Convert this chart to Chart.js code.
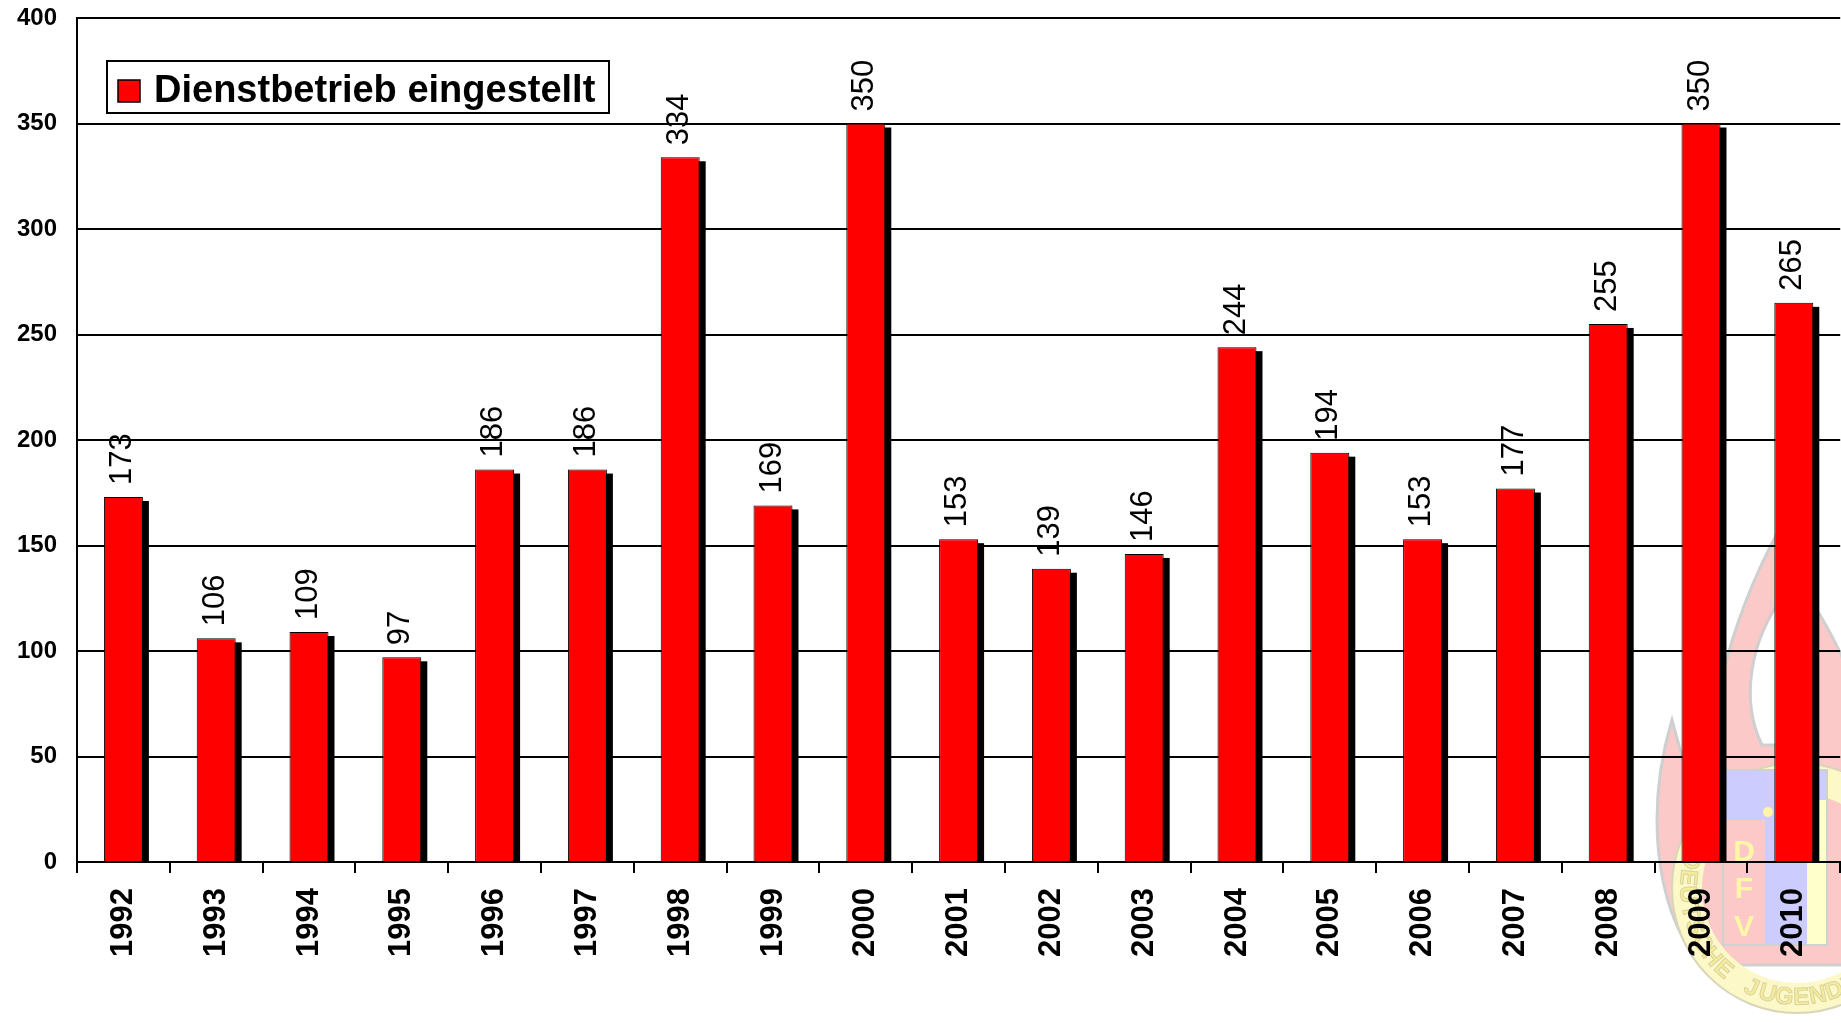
<!DOCTYPE html>
<html>
<head>
<meta charset="utf-8">
<script src="https://cdn.jsdelivr.net/npm/chart.js@4.4.1/dist/chart.umd.min.js"></script>
<style>
  html, body { margin: 0; padding: 0; background: #fff; overflow: hidden; }
  #wrap { position: relative; width: 1846px; height: 1023px; }
</style>
</head>
<body>
<div id="wrap"><canvas id="chart"></canvas></div>
<script>
const years = ['1992', '1993', '1994', '1995', '1996', '1997', '1998', '1999', '2000', '2001',
  '2002', '2003', '2004', '2005', '2006', '2007', '2008', '2009', '2010'];
const counts = [173, 106, 109, 97, 186, 186, 334, 169, 350, 153, 139, 146, 244, 194, 153, 177, 255, 350, 265];
const yTicks = [0, 50, 100, 150, 200, 250, 300, 350, 400];
const seriesName = 'Dienstbetrieb eingestellt';

const FONT = '"Liberation Sans", Arial, sans-serif';

// faint DJF logo behind the chart (bottom right)
const watermark = {
  id: 'watermark',
  beforeDraw(chart) {
    const ctx = chart.ctx;
    ctx.save();
    // flame
    ctx.beginPath();
    ctx.moveTo(1700, 965);
    ctx.bezierCurveTo(1650, 900, 1648, 800, 1672, 720);
    ctx.bezierCurveTo(1688, 780, 1698, 810, 1710, 830);
    ctx.bezierCurveTo(1700, 730, 1730, 620, 1779, 530);
    ctx.bezierCurveTo(1800, 600, 1850, 640, 1860, 720);
    ctx.lineTo(1860, 965);
    ctx.closePath();
    ctx.fillStyle = '#fcc9c9';
    ctx.fill();
    ctx.strokeStyle = '#cfcfcf';
    ctx.lineWidth = 3;
    ctx.stroke();
    // inner tongue of the flame
    ctx.beginPath();
    ctx.moveTo(1762, 745);
    ctx.bezierCurveTo(1740, 700, 1750, 640, 1784, 595);
    ctx.bezierCurveTo(1775, 650, 1792, 700, 1782, 745);
    ctx.closePath();
    ctx.fillStyle = '#ffffff';
    ctx.fill();
    ctx.stroke();
    // ring
    const cx = 1797, cy = 888;
    ctx.beginPath();
    ctx.arc(cx, cy, 125, 0, Math.PI * 2);
    ctx.arc(cx, cy, 95, 0, Math.PI * 2, true);
    ctx.fillStyle = '#fdf8c8';
    ctx.fill('evenodd');
    ctx.strokeStyle = '#d8d6b8';
    ctx.lineWidth = 2;
    ctx.beginPath(); ctx.arc(cx, cy, 125, 0, Math.PI * 2); ctx.stroke();
    // ring text
    const txt = 'DEUTSCHE JUGENDFEUERWEHR';
    ctx.font = 'bold 24px ' + FONT;
    ctx.fillStyle = '#f6ec9a';
    ctx.strokeStyle = '#d9d3a0';
    ctx.lineWidth = 1;
    ctx.textAlign = 'center';
    ctx.textBaseline = 'middle';
    for (let i = 0; i < txt.length; i++) {
      const a = Math.PI * 1.08 - i * 0.155;
      const x = cx + 110 * Math.cos(a), y = cy + 110 * Math.sin(a);
      ctx.save();
      ctx.translate(x, y);
      ctx.rotate(a - Math.PI / 2);
      ctx.fillText(txt[i], 0, 0);
      ctx.strokeText(txt[i], 0, 0);
      ctx.restore();
    }
    // shield
    ctx.fillStyle = '#ccccff';
    ctx.fillRect(1723, 770, 104, 175);
    ctx.fillStyle = '#fdc8c8';
    ctx.fillRect(1723, 820, 42, 125);
    ctx.fillStyle = '#ffffcc';
    ctx.fillRect(1807, 800, 20, 145);
    ctx.strokeStyle = '#d0d0d0';
    ctx.lineWidth = 2;
    ctx.strokeRect(1723, 770, 104, 175);
    ctx.fillStyle = '#fff7a8';
    ctx.beginPath(); ctx.arc(1768, 812, 5, 0, Math.PI * 2); ctx.fill();
    ctx.font = 'bold 30px ' + FONT;
    ctx.fillText('D', 1744, 853);
    ctx.fillText('F', 1744, 890);
    ctx.fillText('V', 1744, 928);
    ctx.restore();
  }
};

// black block offset behind each bar (3D-like shadow)
const barShadow = {
  id: 'barShadow',
  beforeDatasetsDraw(chart) {
    const ctx = chart.ctx;
    const meta = chart.getDatasetMeta(0);
    ctx.save();
    ctx.fillStyle = '#000';
    meta.data.forEach(bar => {
      const w = bar.width;
      ctx.fillRect(bar.x - w / 2 + 6, bar.y + 4, w, bar.base - bar.y - 2);
    });
    ctx.restore();
  }
};

// vertical value labels above the bars
const valueLabels = {
  id: 'valueLabels',
  afterDatasetsDraw(chart) {
    const ctx = chart.ctx;
    const meta = chart.getDatasetMeta(0);
    ctx.save();
    ctx.font = '31px ' + FONT;
    ctx.fillStyle = '#000';
    ctx.textAlign = 'left';
    ctx.textBaseline = 'middle';
    meta.data.forEach((bar, i) => {
      ctx.save();
      ctx.translate(bar.x - 1, bar.y - 12);
      ctx.rotate(-Math.PI / 2);
      ctx.fillText(String(counts[i]), 0, 0);
      ctx.restore();
    });
    ctx.restore();
  }
};

// boxed legend in the upper left of the plot
const boxLegend = {
  id: 'boxLegend',
  afterDraw(chart) {
    const ctx = chart.ctx;
    ctx.save();
    ctx.fillStyle = '#fff';
    ctx.fillRect(107, 61, 502, 52);
    ctx.strokeStyle = '#000';
    ctx.lineWidth = 2;
    ctx.strokeRect(107, 61, 502, 52);
    ctx.fillStyle = '#ff0000';
    ctx.fillRect(118, 80, 22, 22);
    ctx.lineWidth = 1.5;
    ctx.strokeRect(118, 80, 22, 22);
    ctx.fillStyle = '#000';
    ctx.font = 'bold 38px ' + FONT;
    ctx.textBaseline = 'alphabetic';
    ctx.fillText(seriesName, 154, 102);
    ctx.restore();
  }
};

const ctx = document.getElementById('chart').getContext('2d');
new Chart(ctx, {
  type: 'bar',
  data: {
    labels: years,
    datasets: [{
      label: seriesName,
      data: counts,
      backgroundColor: '#ff0000',
      borderColor: '#000',
      borderWidth: 1,
      categoryPercentage: 1,
      barPercentage: 0.42
    }]
  },
  options: {
    responsive: true,
    maintainAspectRatio: false,
    animation: false,
    layout: { padding: { top: 18, left: 0, right: 0, bottom: 0 } },
    plugins: {
      legend: { display: false },
      tooltip: { enabled: false }
    },
    scales: {
      x: {
        offset: true,
        grid: {
          offset: true,
          drawOnChartArea: false,
          drawTicks: true,
          tickLength: 11,
          color: '#000',
          lineWidth: 2
        },
        border: { display: true, color: '#000', width: 2 },
        ticks: {
          color: '#000',
          font: { family: FONT, size: 31, weight: 'bold' },
          minRotation: 90,
          maxRotation: 90,
          padding: 15,
          autoSkip: false
        },
        afterFit(scale) { scale.height = 161; }
      },
      y: {
        min: 0,
        max: 400,
        afterBuildTicks(scale) { scale.ticks = yTicks.map(v => ({ value: v })); },
        grid: { color: '#000', lineWidth: 2, drawTicks: true, tickLength: 20, tickColor: 'rgba(0,0,0,0)' },
        border: { display: true, color: '#000', width: 2 },
        ticks: {
          color: '#000',
          font: { family: FONT, size: 24, weight: 'bold' },
          padding: 0
        },
        afterFit(scale) { scale.width = 77; }
      }
    }
  },
  plugins: [watermark, barShadow, valueLabels, boxLegend]
});
</script>
</body>
</html>
